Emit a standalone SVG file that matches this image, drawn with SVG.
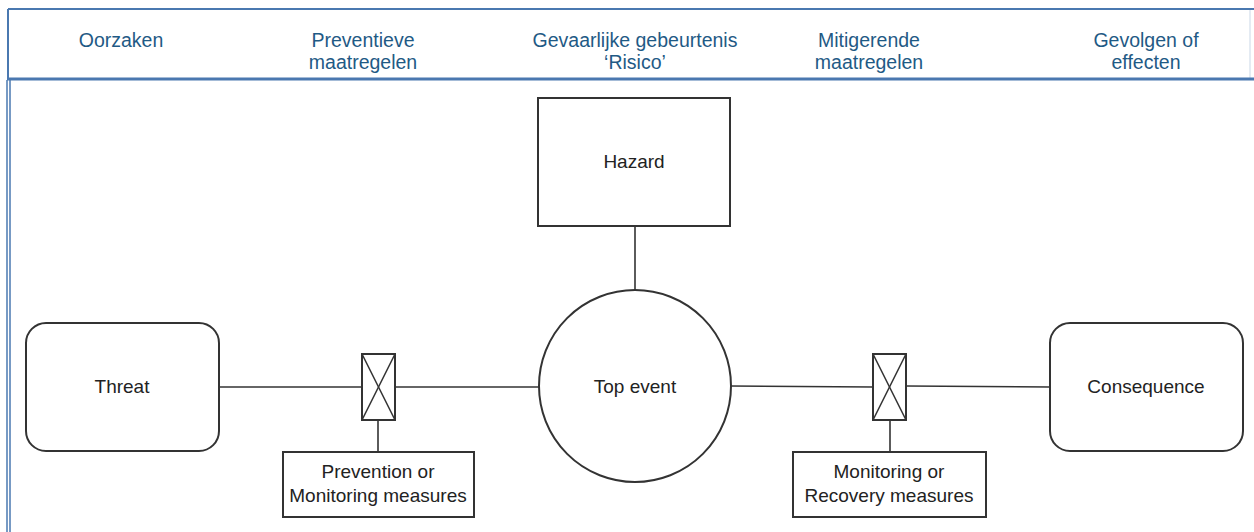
<svg xmlns="http://www.w3.org/2000/svg" width="1254" height="532" viewBox="0 0 1254 532">
<defs>
<style>
.hdr{font-family:"Liberation Sans",Arial,sans-serif;font-size:19.5px;fill:#1f5a85;text-anchor:middle}
.lbl{font-family:"Liberation Sans",Arial,sans-serif;font-size:19px;fill:#222;text-anchor:middle}
.shape{fill:#fff;stroke:#333;stroke-width:2}
.conn{stroke:#333;stroke-width:1.6;fill:none}
.frame{stroke:#4a78b0;fill:none}
</style>
</defs>
<rect width="1254" height="532" fill="#fff"/>
<g id="frame">
<line class="frame" x1="8" y1="9" x2="1254" y2="9" stroke-width="2"/>
<line class="frame" x1="8" y1="9" x2="8" y2="79" stroke-width="2"/>
<line class="frame" x1="1250" y1="9" x2="1250" y2="79" stroke-width="1" opacity="0.3"/>
<line class="frame" x1="7" y1="79" x2="1254" y2="79" stroke-width="3" stroke="#3e6fa8"/>
<line class="frame" x1="7" y1="80" x2="7" y2="532" stroke-width="1.5"/>
<line class="frame" x1="10" y1="80" x2="10" y2="532" stroke-width="1.5"/>
</g>
<g id="headers">
<text class="hdr" x="121" y="47">Oorzaken</text>
<text class="hdr" x="363" y="47">Preventieve</text>
<text class="hdr" x="363" y="69">maatregelen</text>
<text class="hdr" x="635" y="47">Gevaarlijke gebeurtenis</text>
<text class="hdr" x="635" y="69">‘Risico’</text>
<text class="hdr" x="869" y="47">Mitigerende</text>
<text class="hdr" x="869" y="69">maatregelen</text>
<text class="hdr" x="1146" y="47">Gevolgen of</text>
<text class="hdr" x="1146" y="69">effecten</text>
</g>
<g id="connectors">
<line class="conn" x1="635" y1="226" x2="635" y2="290"/>
<line class="conn" x1="219" y1="387" x2="362" y2="387"/>
<line class="conn" x1="395" y1="387" x2="540" y2="387"/>
<line class="conn" x1="378" y1="420" x2="378" y2="452"/>
<line class="conn" x1="730" y1="386" x2="873" y2="387"/>
<line class="conn" x1="906" y1="386" x2="1050" y2="387"/>
<line class="conn" x1="890" y1="420" x2="890" y2="452"/>
</g>
<g id="hazard">
<rect class="shape" x="538" y="98" width="192" height="128"/>
<text class="lbl" x="634" y="168">Hazard</text>
</g>
<g id="top-event">
<circle class="shape" cx="635" cy="386" r="96"/>
<text class="lbl" x="635" y="393">Top event</text>
</g>
<g id="threat">
<rect class="shape" x="26" y="323" width="193" height="128" rx="20"/>
<text class="lbl" x="122" y="393">Threat</text>
</g>
<g id="consequence">
<rect class="shape" x="1050" y="323" width="193" height="128" rx="20"/>
<text class="lbl" x="1146" y="393">Consequence</text>
</g>
<g id="barrier-left">
<rect class="shape" x="362" y="354" width="33" height="66"/>
<line class="conn" x1="362" y1="354" x2="395" y2="420"/>
<line class="conn" x1="395" y1="354" x2="362" y2="420"/>
</g>
<g id="barrier-right">
<rect class="shape" x="873" y="354" width="33" height="66"/>
<line class="conn" x1="873" y1="354" x2="906" y2="420"/>
<line class="conn" x1="906" y1="354" x2="873" y2="420"/>
</g>
<g id="prevention">
<rect class="shape" x="283" y="452" width="191" height="65"/>
<text class="lbl" x="378" y="478">Prevention or</text>
<text class="lbl" x="378" y="502">Monitoring measures</text>
</g>
<g id="recovery">
<rect class="shape" x="793" y="452" width="193" height="65"/>
<text class="lbl" x="889" y="478">Monitoring or</text>
<text class="lbl" x="889" y="502">Recovery measures</text>
</g>
</svg>
